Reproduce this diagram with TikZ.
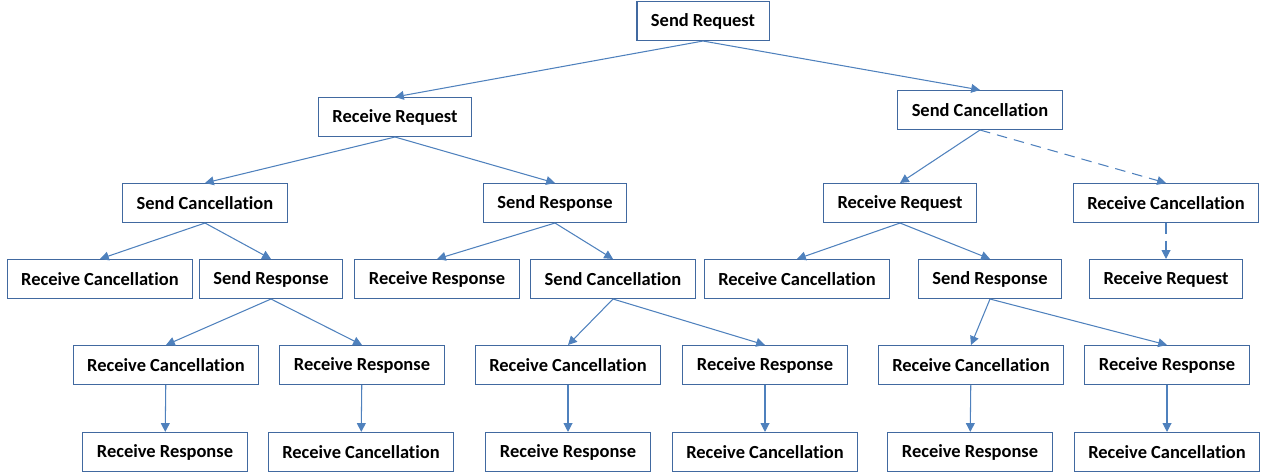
\documentclass[tikz,border=0pt]{standalone}
\usepackage{fontspec}
\setmainfont{Carlito}[RawFeature=-liga]
\usetikzlibrary{arrows.meta}
\definecolor{linkblue}{RGB}{79,129,189}
\definecolor{boxblue}{RGB}{65,105,160}
\begin{document}
\begin{tikzpicture}[every node/.style={rectangle, draw=boxblue, line width=0.6pt, font=\bfseries\fontsize{10.5}{12}\selectfont, inner xsep=0.28cm, minimum height=0.78cm},
    link/.style={draw=linkblue, line width=0.6pt, -{Triangle[width=5pt,length=5pt]}}]
            \useasboundingbox (0,0) rectangle (25.32,-9.48);

            % root
            \node (sr) at (14.06,-0.42) {Send Request};

            % level 1
            \node (rr1) at (7.90,-2.34) {Receive Request};
            \node (sc1) at (19.60,-2.20) {Send Cancellation};

            % level 2
            \node (sc2) at (4.10,-4.06) {Send Cancellation};
            \node (sp2) at (11.10,-4.06) {Send Response};
            \node (rr2) at (18.00,-4.06) {Receive Request};
            \node (rc2) at (23.32,-4.06) {Receive Cancellation};

            % level 3
            \node (rc3a) at (2.00,-5.58) {Receive Cancellation};
            \node (sp3a) at (5.42,-5.58) {Send Response};
            \node (rp3) at (8.74,-5.58) {Receive Response};
            \node (sc3) at (12.26,-5.58) {Send Cancellation};
            \node (rc3b) at (15.94,-5.58) {Receive Cancellation};
            \node (sp3b) at (19.80,-5.58) {Send Response};
            \node (rq3) at (23.32,-5.58) {Receive Request};

            % level 4
            \node (rc4a) at (3.32,-7.30) {Receive Cancellation};
            \node (rp4a) at (7.24,-7.30) {Receive Response};
            \node (rc4b) at (11.36,-7.30) {Receive Cancellation};
            \node (rp4b) at (15.30,-7.30) {Receive Response};
            \node (rc4c) at (19.42,-7.30) {Receive Cancellation};
            \node (rp4c) at (23.34,-7.30) {Receive Response};

            % level 5
            \node (rp5a) at (3.30,-9.04) {Receive Response};
            \node (rc5a) at (7.22,-9.04) {Receive Cancellation};
            \node (rp5b) at (11.36,-9.04) {Receive Response};
            \node (rc5b) at (15.30,-9.04) {Receive Cancellation};
            \node (rp5c) at (19.40,-9.04) {Receive Response};
            \node (rc5c) at (23.34,-9.04) {Receive Cancellation};

            % tree edges
            \draw[link] (sr.south) -- (rr1.north);
            \draw[link] (sr.south) -- (sc1.north);
            \draw[link] (rr1.south) -- (sc2.north);
            \draw[link] (rr1.south) -- (sp2.north);
            \draw[link] (sc1.south) -- (rr2.north);
            \draw[link] (sc2.south) -- (rc3a.north);
            \draw[link] (sc2.south) -- (sp3a.north);
            \draw[link] (sp2.south) -- (rp3.north);
            \draw[link] (sp2.south) -- (sc3.north);
            \draw[link] (rr2.south) -- (rc3b.north);
            \draw[link] (rr2.south) -- (sp3b.north);
            \draw[link] (sp3a.south) -- (rc4a.north);
            \draw[link] (sp3a.south) -- (rp4a.north);
            \draw[link] (sc3.south) -- (rc4b.north);
            \draw[link] (sc3.south) -- (rp4b.north);
            \draw[link] (sp3b.south) -- (rc4c.north);
            \draw[link] (sp3b.south) -- (rp4c.north);

            % last step
            \draw[link] (rc4a) -- (rp5a);
            \draw[link] (rp4a) -- (rc5a);
            \draw[link] (rc4b) -- (rp5b);
            \draw[link] (rp4b) -- (rc5b);
            \draw[link] (rc4c) -- (rp5c);
            \draw[link] (rp4c) -- (rc5c);

            % dashed branch
            \draw[link, dash pattern=on 6pt off 4pt] (sc1.south) -- (rc2.north);
            \draw[link, dash pattern=on 6pt off 4pt] (rc2) -- (rq3);
        \end{tikzpicture}
\end{document}
